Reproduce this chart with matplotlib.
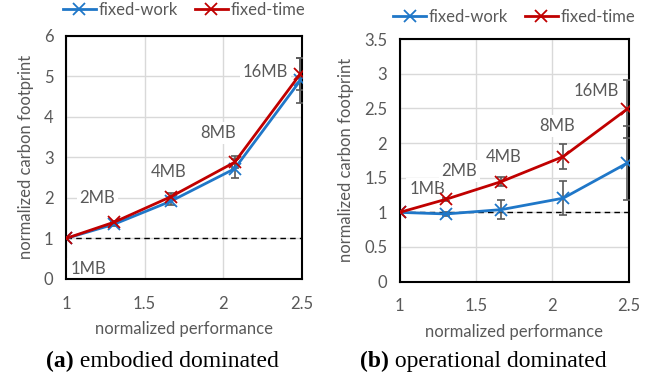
import numpy as np
import matplotlib.pyplot as plt

# cache size sweep
sizes = ["1MB", "2MB", "4MB", "8MB", "16MB"]
perf = [1.0, 1.305, 1.667, 2.072, 2.49]

# (a) embodied dominated
emb_work = [1.0, 1.35, 1.92, 2.72, 4.90]
emb_work_err = [0.0, 0.05, 0.10, 0.23, 0.55]
emb_time = [1.0, 1.40, 2.03, 2.88, 5.06]
emb_time_err = [0.0, 0.04, 0.08, 0.15, 0.40]

# (b) operational dominated
op_work = [1.0, 0.977, 1.04, 1.205, 1.71]
op_work_err = [0.0, 0.03, 0.14, 0.25, 0.53]
op_time = [1.0, 1.19, 1.445, 1.806, 2.49]
op_time_err = [0.0, 0.02, 0.06, 0.18, 0.42]

# label anchors (x, y) per panel
emb_label_pos = [(1.14, 0.25), (1.2, 2.0), (1.65, 2.65), (1.97, 3.6), (2.27, 5.1)]
op_label_pos = [(1.18, 1.34), (1.39, 1.6), (1.68, 1.8), (2.03, 2.25), (2.29, 2.75)]

BLUE = "#1F77C8"
RED = "#C00000"
GREY = "#595959"
FS = 12

plt.rcParams['font.family'] = ['Lato', 'DejaVu Sans']

fig = plt.figure(figsize=(6.5, 3.77), dpi=100)
ax1 = fig.add_axes([0.1015, 0.26, 0.363, 0.645])
ax2 = fig.add_axes([0.615, 0.253, 0.352, 0.643])


def draw_panel(ax, work, work_err, time, time_err, ylim, ystep, label_pos,
               leg_y):
    ax.errorbar(perf, work, yerr=work_err, fmt='none', ecolor=GREY,
                elinewidth=1.2, capsize=3, capthick=1.2, zorder=3)
    ax.errorbar(perf, time, yerr=time_err, fmt='none', ecolor=GREY,
                elinewidth=1.2, capsize=3, capthick=1.2, zorder=3)
    ax.plot(perf, work, color=BLUE, lw=2, marker='x', ms=9, mew=1.3,
            label="fixed-work", zorder=4)
    ax.plot(perf, time, color=RED, lw=2, marker='x', ms=9, mew=1.3,
            label="fixed-time", zorder=5)
    ax.plot([1, 2.5], [1, 1], color='black', lw=1, ls=(0, (4, 3)), zorder=2)

    for name, (x, y) in zip(sizes, label_pos):
        ax.text(x, y, name, ha='center', va='center', fontsize=FS,
                color=GREY, zorder=2.5,
                bbox=dict(facecolor='white', edgecolor='none', pad=2))

    ax.set_xlim(1, 2.5)
    ax.set_ylim(*ylim)
    ax.set_xticks([1, 1.5, 2, 2.5])
    ax.set_xticklabels(["1", "1.5", "2", "2.5"])
    yt = np.arange(ylim[0], ylim[1] + ystep / 2, ystep)
    ax.set_yticks(yt)
    ax.set_yticklabels(["%g" % v for v in yt])
    ax.tick_params(length=0, labelsize=FS, labelcolor=GREY, pad=9)
    ax.tick_params(axis='x', pad=12)
    ax.grid(color="#D9D9D9", lw=1)
    ax.set_axisbelow(True)
    for sp in ax.spines.values():
        sp.set_linewidth(1.5)
        sp.set_color('black')
    ax.set_xlabel("normalized performance", fontsize=FS, color=GREY,
                  labelpad=7)
    ax.set_ylabel("normalized carbon footprint", fontsize=FS, color=GREY,
                  labelpad=7)
    ax.legend(loc='lower center', bbox_to_anchor=(0.5, leg_y), ncol=2,
              frameon=False, fontsize=FS, labelcolor=GREY,
              handlelength=2.0, handletextpad=0.15, columnspacing=1.0,
              borderaxespad=0.0)


draw_panel(ax1, emb_work, emb_work_err, emb_time, emb_time_err,
           (0, 6), 1, emb_label_pos, 1.045)
draw_panel(ax2, op_work, op_work_err, op_time, op_time_err,
           (0, 3.5), 0.5, op_label_pos, 1.03)

cap_font = ['Liberation Serif', 'DejaVu Serif']
cap_y = 0.027
fig.text(0.114, cap_y, "(a)", fontsize=17, family=cap_font,
         weight='bold', ha='right', va='baseline')
fig.text(0.114, cap_y, " embodied dominated", fontsize=17, family=cap_font,
         ha='left', va='baseline')
fig.text(0.598, cap_y, "(b)", fontsize=17, family=cap_font,
         weight='bold', ha='right', va='baseline')
fig.text(0.598, cap_y, " operational dominated", fontsize=17,
         family=cap_font, ha='left', va='baseline')

fig.savefig("out.png", dpi=100)
